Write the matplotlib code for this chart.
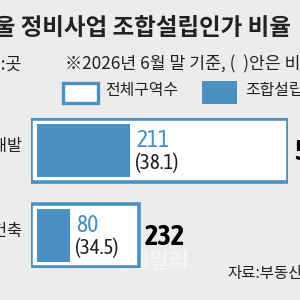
import matplotlib
matplotlib.use("Agg")
import matplotlib.pyplot as plt
from matplotlib.patches import Rectangle
from matplotlib import font_manager
from matplotlib.font_manager import FontProperties

plt.rcParams['font.family'] = ['Noto Sans CJK KR', 'DejaVu Sans']

# ---- data ----
categories = ["재개발", "재건축"]
totals = [554, 232]          # 전체구역수
approved = [211, 80]         # 조합설립인가
ratios = [38.1, 34.5]        # 비율(%)

title = "서울 정비사업 조합설립인가 비율"
unit_text = "단위:곳"
note_text = "※2026년 6월 말 기준, (  )안은 비율"
legend_labels = ["전체구역수", "조합설립인가"]
source_text = "자료:부동산R114"
watermark = "이데일리"

BG = "#ececec"
BLUE = "#4a90c2"
DARK = "#222222"
KR = "Noto Sans CJK KR"

# narrow font for numbers (prefer one that has a bold face)
fl = font_manager.fontManager.ttflist
cands = {}
for f in fl:
    if "Narrow" in f.name or "Condensed" in f.name:
        w = f.weight if isinstance(f.weight, int) else 400
        cands.setdefault(f.name, set()).add(w)
with_bold = [n for n, ws in sorted(cands.items()) if max(ws) >= 600]
nums_font = (with_bold or sorted(cands) or ["Roboto"])[0]

fig = plt.figure(figsize=(3, 3), dpi=100, facecolor=BG)
renderer = fig.canvas.get_renderer()


def ink_w(s, family, size, weight="normal"):
    fp = FontProperties(family=family, size=size, weight=weight)
    return renderer.get_text_width_height_descent(s, fp, ismath=False)[0]


def fit_size(s, target, family, weight="normal", s0=20.0):
    return s0 * target / ink_w(s, family, s0, weight)


tx = fig.add_axes([0, 0, 1, 1])
tx.set_xlim(0, 300)
tx.set_ylim(300, 0)
tx.axis("off")

# title: "울" ink ends at x=15, "가" ink ends at x=242
s0 = 20.0
w1 = ink_w("서울", KR, s0, "bold")
w2 = ink_w("서울 정비사업 조합설립인가", KR, s0, "bold")
tsize = s0 * (242 - 15) / (w2 - w1)
tx.text(15 - w1 * tsize / s0, 28, title, fontsize=tsize, fontweight="bold", color=DARK,
        va="center", ha="left", family=KR)

# note line
nsize = fit_size("※2026년 6월 말 기준, (  )안은", 280 - 65, KR)
tx.text(65, 64.5, note_text, fontsize=nsize, color=DARK, va="center", ha="left", family=KR)
tx.text(22, 64.5, unit_text, fontsize=nsize, color=DARK, va="center", ha="right", family=KR)

# legend
lsize = fit_size(legend_labels[0], 178 - 105, KR)
tx.add_patch(Rectangle((62.5, 82.5), 35, 20, facecolor="white", edgecolor=BLUE, lw=2.4))
tx.text(105, 91, legend_labels[0], fontsize=lsize, color=DARK, va="center", ha="left", family=KR)
tx.add_patch(Rectangle((202, 81), 35, 23, facecolor=BLUE, edgecolor="none"))
tx.text(245, 91, legend_labels[1], fontsize=lsize, color=DARK, va="center", ha="left", family=KR)

# bar axes: x in data units
left_px, width_px = 31, 257
top_px, height_px = 118, 150
row_px = 85
ax = fig.add_axes([left_px / 300, 1 - (top_px + height_px) / 300, width_px / 300, height_px / 300])
ax.set_xlim(0, totals[0])
pad = 32.5 / row_px
ax.set_ylim(len(categories) - 1 + pad, -pad)
ax.axis("off")
ax.patch.set_alpha(0)

px_per_unit = width_px / totals[0]
inset = 6 / px_per_unit
num_fam = [nums_font, "DejaVu Sans"]
size_cnt = 17
size_pct = 15
size_tot = 20.5
lab_size = fit_size("발", 15, KR)

for i, (cat, tot, app, r) in enumerate(zip(categories, totals, approved, ratios)):
    ax.barh(i, tot, height=0.75, left=0, color="white", edgecolor=BLUE, linewidth=2.6)
    inner_w = app / tot * (tot - 2 * inset)
    ax.barh(i, inner_w, height=0.62, left=inset, color=BLUE, edgecolor="none")
    xt = inset + inner_w + 6 / px_per_unit
    ax.text(xt, i - 3.5 / row_px, f"{app}", fontsize=size_cnt, color=BLUE, va="baseline",
            ha="left", family=num_fam)
    ax.text(xt - 1 / px_per_unit, i + 18.5 / row_px, f"({r})", fontsize=size_pct, color=DARK,
            va="baseline", ha="left", family=num_fam)
    ax.text(tot + 6 / px_per_unit, i + 9.5 / row_px, f"{tot}", fontsize=size_tot, color="black",
            fontweight="bold", va="baseline", ha="left", family=num_fam, clip_on=False)
    ax.text(-9 / px_per_unit, i - 4 / row_px, cat, fontsize=lab_size, color=DARK, va="center",
            ha="right", clip_on=False, family=KR)

wsize = fit_size(watermark, 80, KR, "bold")
tx.text(150, 262, watermark, fontsize=wsize, color="#f5f5f5", fontweight="bold",
        va="center", ha="center", family=KR)
ssize = fit_size("자료:부동", 288 - 227, KR)
tx.text(227, 273.5, source_text, fontsize=ssize, color=DARK, va="center", ha="left", family=KR)

fig.savefig("out.png", dpi=100, facecolor=BG)
